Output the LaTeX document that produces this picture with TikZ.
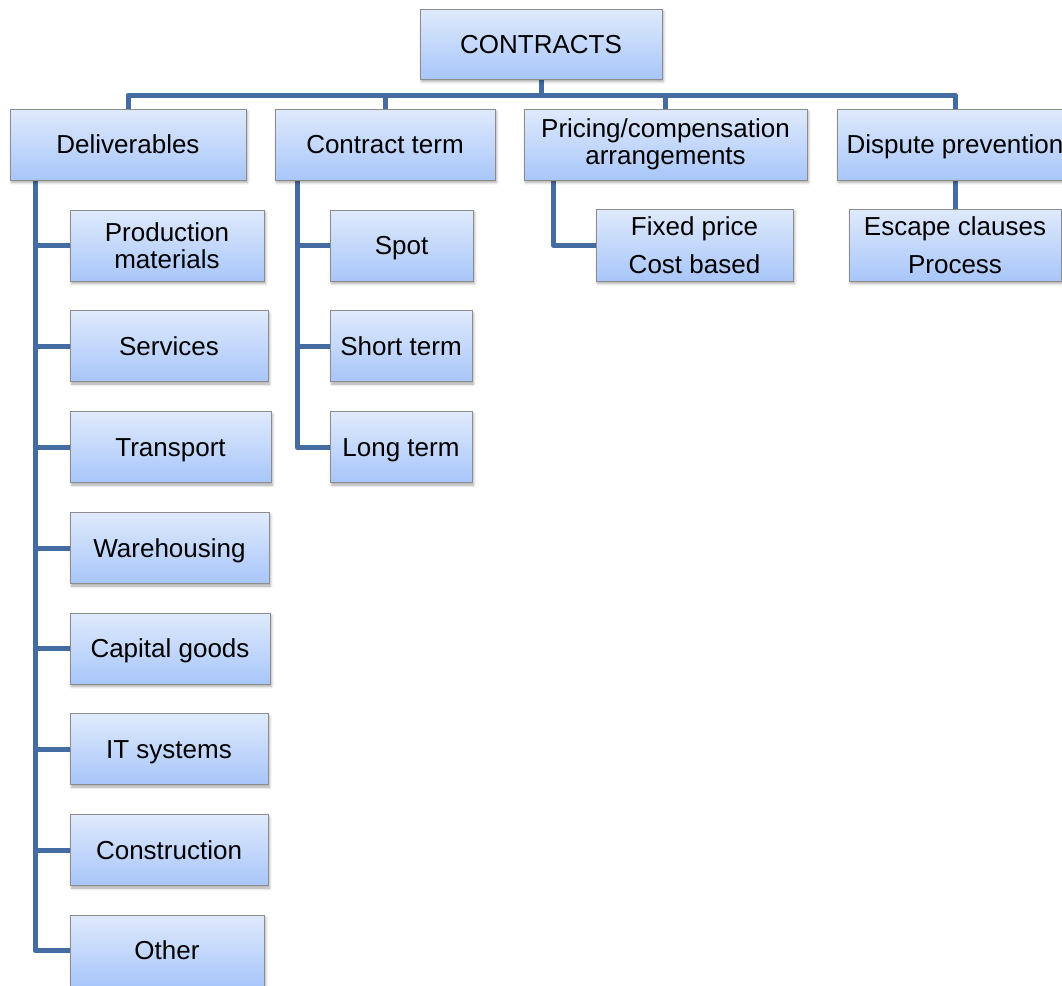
\documentclass[tikz,border=0pt]{standalone}
\usepackage{fontspec}
\setmainfont{Liberation Sans}
\usetikzlibrary{shadows.blur,backgrounds}
\definecolor{boxtop}{RGB}{223,234,252}
\definecolor{boxbot}{RGB}{168,198,250}
\definecolor{boxline}{RGB}{140,140,140}
\definecolor{link}{RGB}{68,108,162}
\tikzset{
  box/.style={draw=boxline, line width=0.8pt, top color=boxtop, bottom color=boxbot,
    inner sep=0pt, align=center, font=\fontsize{26}{27}\selectfont,
    blur shadow={shadow xshift=1.5pt, shadow yshift=-2.5pt, shadow blur radius=2.5pt, shadow opacity=35}},
  one/.style={text height=18.6pt, text depth=0pt},
  conn/.style={draw=link, line width=5pt, line join=round}
}
\begin{document}
\begin{tikzpicture}[x=1pt,y=-1pt]
\useasboundingbox (0,0) rectangle (1062,985);
\coordinate (bus) at (0,95);
\coordinate (dspine) at (35,180);
\coordinate (tspine) at (297,180);
\coordinate (pspine) at (553,180);

\node[box, one, minimum width=242pt, minimum height=70pt] (contracts) at (541,44) {CONTRACTS};
\node[box, one, minimum width=236pt, minimum height=71pt] (deliv) at (128,144.5) {Deliverables};
\node[box, one, minimum width=220pt, minimum height=71pt] (term) at (385,144.5) {Contract term};
\node[box, minimum width=283pt, minimum height=71pt] (pricing) at (665.5,144.5) {Pricing/compensation\\arrangements};
\node[box, one, minimum width=236pt, minimum height=71pt] (dispute) at (955,144.5) {Dispute prevention};

\node[box, minimum width=194pt, minimum height=71pt] (prod) at (167,245.5) {Production\\materials};
\node[box, one, minimum width=198pt, minimum height=71pt] (serv) at (169,346) {Services};
\node[box, one, minimum width=201pt, minimum height=71pt] (trans) at (170.5,447) {Transport};
\node[box, one, minimum width=199pt, minimum height=71pt] (ware) at (169.5,548) {Warehousing};
\node[box, one, minimum width=200pt, minimum height=71pt] (capi) at (170,648.5) {Capital goods};
\node[box, one, minimum width=198pt, minimum height=71pt] (itsys) at (169,749) {IT systems};
\node[box, one, minimum width=198pt, minimum height=71pt] (constr) at (169,850) {Construction};
\node[box, one, minimum width=194pt, minimum height=71pt] (other) at (167,950.5) {Other};

\node[box, one, minimum width=143pt, minimum height=71pt] (spot) at (401.5,245.5) {Spot};
\node[box, one, minimum width=142pt, minimum height=71pt] (short) at (401,346) {Short term};
\node[box, one, minimum width=142pt, minimum height=71pt] (long) at (401,447) {Long term};

\node[box, minimum width=197pt, minimum height=72pt] (fixed) at (694.5,245) {Fixed price\\[11pt]Cost based};
\node[box, minimum width=212pt, minimum height=72pt] (escape) at (955,245) {Escape clauses\\[11pt]Process};

\begin{scope}[on background layer]
  % top bus
  \draw[conn] (contracts.south) -- (contracts.south |- bus);
  \draw[conn] (deliv.north) |- (dispute.north |- bus) -- (dispute.north);
  \draw[conn] (term.north) -- (term.north |- bus);
  \draw[conn] (pricing.north) -- (pricing.north |- bus);
  % deliverables
  \draw[conn] (dspine) |- (other.west);
  \foreach \n in {prod,serv,trans,ware,capi,itsys,constr}
    \draw[conn] (\n.west) -- (\n.west -| dspine);
  % contract term
  \draw[conn] (tspine) |- (long.west);
  \foreach \n in {spot,short}
    \draw[conn] (\n.west) -- (\n.west -| tspine);
  % pricing
  \draw[conn] (pspine) |- (fixed.west);
  % dispute
  \draw[conn] (dispute.south) -- (escape.north);
\end{scope}
\end{tikzpicture}
\end{document}
